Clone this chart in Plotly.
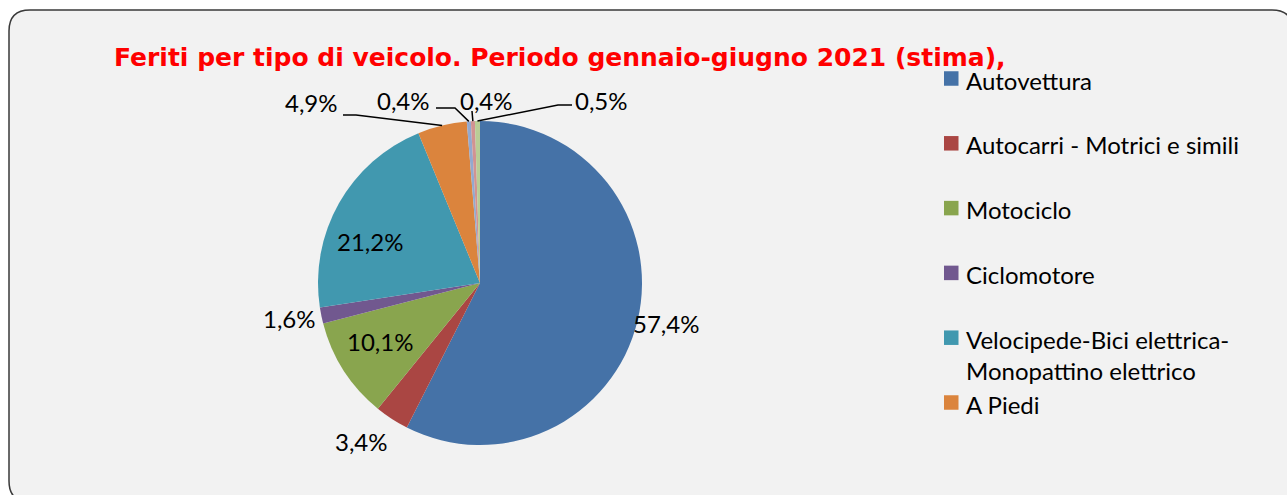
import math
import plotly.graph_objects as go

# ---- data ----
categories = [
    "Autovettura",
    "Autocarri - Motrici e simili",
    "Motociclo",
    "Ciclomotore",
    "Velocipede-Bici elettrica-Monopattino elettrico",
    "A Piedi",
    "Autobus",
    "Altri veicoli",
    "Non rilevato",
]
values = [57.4, 3.4, 10.1, 1.6, 21.2, 4.9, 0.4, 0.4, 0.5]
value_labels = ["57,4%", "3,4%", "10,1%", "1,6%", "21,2%", "4,9%", "0,4%", "0,4%", "0,5%"]
legend_count = 6  # only the first six entries are visible in the legend
title_text = "Feriti per tipo di veicolo. Periodo gennaio-giugno 2021 (stima),"

# ---- styles / layout ----
W, H = 1287, 495
colors = ["#4572A7", "#AA4643", "#89A54E", "#71588F", "#4198AF", "#DB843D",
          "#93A9CF", "#D19392", "#B9CD96"]
CX, CY, R = 480, 283, 162
FONT = "Lato, 'Open Sans', sans-serif"
LBL_SIZE = 24

# label centres (pixels) and leader-line elbow points (None = no leader)
label_pos = [(666, 323), (361, 441), (380, 341), (289, 318), (370, 241),
             (311, 102), (403, 100), (486, 100), (601, 100)]
leader = [None, None, None, None, None,
          [(343, 115), (356, 115)],
          [(436, 108), (455, 108)],
          [(472, 111)],
          [(572, 105), (558, 105)]]

fig = go.Figure()

fig.add_trace(go.Pie(
    labels=categories,
    values=values,
    sort=False,
    direction="clockwise",
    rotation=0,
    marker=dict(colors=colors, line=dict(width=0)),
    textinfo="none",
    hoverinfo="label+percent",
    showlegend=False,
    domain=dict(x=[(CX - R) / W, (CX + R) / W],
                y=[1 - (CY + R) / H, 1 - (CY - R) / H]),
))

shapes = []
# rounded chart-area frame
x0, y0, x1, y1, rr = 9, 10, 1293, 502, 21
path = (f"M {x0},{y0 + rr} Q {x0},{y0} {x0 + rr},{y0} L {x1 - rr},{y0} "
        f"Q {x1},{y0} {x1},{y0 + rr} L {x1},{y1 - rr} Q {x1},{y1} {x1 - rr},{y1} "
        f"L {x0 + rr},{y1} Q {x0},{y1} {x0},{y1 - rr} Z")
shapes.append(dict(type="path", path=path, xref="x", yref="y", layer="below",
                   fillcolor="#F2F2F2", line=dict(color="#3A3A3A", width=1.5)))

annotations = []
total = sum(values)
cum = 0.0
for i, v in enumerate(values):
    mid = (cum + v / 2) / total
    cum += v
    theta = 2 * math.pi * mid
    ax = CX + R * math.sin(theta)
    ay = CY - R * math.cos(theta)
    lx, ly = label_pos[i]
    annotations.append(dict(x=lx, y=ly, xref="x", yref="y", text=value_labels[i],
                            showarrow=False, xanchor="center", yanchor="middle",
                            font=dict(family=FONT, size=LBL_SIZE, color="#000000")))
    if leader[i] is not None:
        pts = leader[i] + [(ax, ay)]
        p = "M " + " L ".join(f"{px},{py}" for px, py in pts)
        shapes.append(dict(type="path", path=p, xref="x", yref="y",
                           line=dict(color="#000000", width=1.5)))

# manual legend
LEG_X, LEG_Y0, LEG_DY, SQ = 944, 78.5, 64.8, 14.5
LEG_LINE = 30
for i in range(legend_count):
    cy = LEG_Y0 + i * LEG_DY
    shapes.append(dict(type="rect", xref="x", yref="y",
                       x0=LEG_X, x1=LEG_X + SQ, y0=cy - SQ / 2, y1=cy + SQ / 2,
                       fillcolor=colors[i], line=dict(width=0)))
    txt = categories[i].replace("elettrica-", "elettrica-<br>", 1)
    annotations.append(dict(x=LEG_X + 20, y=cy - LEG_LINE / 2, xref="x", yref="y",
                            text=txt, showarrow=False, xanchor="left", yanchor="top",
                            align="left",
                            font=dict(family=FONT, size=LBL_SIZE, color="#000000")))

# title
annotations.append(dict(x=560, y=57, xref="x", yref="y", text=f"<b>{title_text}</b>",
                        showarrow=False, xanchor="center", yanchor="middle",
                        font=dict(family="'DejaVu Sans', sans-serif",
                                  size=25, color="#FF0000")))

fig.update_layout(
    width=W, height=H,
    margin=dict(l=0, r=0, t=0, b=0),
    paper_bgcolor="#FFFFFF",
    plot_bgcolor="rgba(0,0,0,0)",
    xaxis=dict(range=[0, W], visible=False, fixedrange=True),
    yaxis=dict(range=[H, 0], visible=False, fixedrange=True),
    shapes=shapes,
    annotations=annotations,
    showlegend=False,
)

fig.write_html("out.html")
